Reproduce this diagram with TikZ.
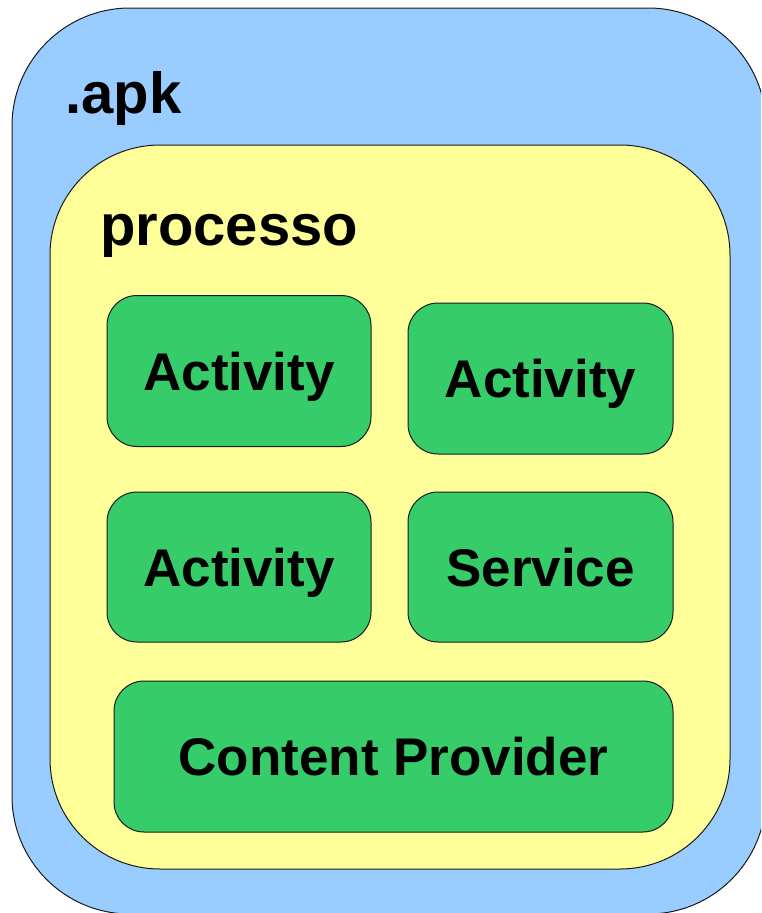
\documentclass[tikz,border=0pt]{standalone}
\usepackage{fontspec}
\setmainfont{Liberation Sans}
\definecolor{apkblue}{HTML}{99CCFF}
\definecolor{procyellow}{HTML}{FFFF99}
\definecolor{compgreen}{HTML}{36CC6A}
\definecolor{edge}{HTML}{1A1A1A}
\begin{document}
\begin{tikzpicture}[x=1pt,y=-1pt,
  container/.style={draw=edge, line width=1pt},
  comp/.style={draw=edge, line width=1pt, fill=compgreen, rounded corners=30pt,
    inner sep=0pt, text height=38pt, text depth=0pt,
    font=\fontsize{53}{60}\selectfont\bfseries},
  biglabel/.style={anchor=base west, inner sep=0pt,
    font=\fontsize{58}{64}\selectfont\bfseries}]
\useasboundingbox (0,0) rectangle (761,913);
\clip (0,0) rectangle (761,913);
% outer .apk container
\draw[container, fill=apkblue, rounded corners=118pt] (12,8) rectangle (766,914);
\node[biglabel] (apk) at (65,113) {.apk};
% process container
\draw[container, fill=procyellow, rounded corners=110pt] (50,145) rectangle (730,869);
\node[biglabel] (proc) at (100,245) {processo};
% components
\node[comp, minimum width=264pt, minimum height=151pt] (act1) at (239,371) {Activity};
\node[comp, minimum width=265pt, minimum height=151pt] (act2) at (540.5,378.5) {Activity};
\node[comp, minimum width=264pt, minimum height=150pt] (act3) at (239,567) {Activity};
\node[comp, minimum width=265pt, minimum height=150pt] (serv) at (540.5,567) {Service};
\node[comp, minimum width=559pt, minimum height=151pt] (cprov) at (393.5,756.5) {Content Provider};
\end{tikzpicture}
\end{document}
